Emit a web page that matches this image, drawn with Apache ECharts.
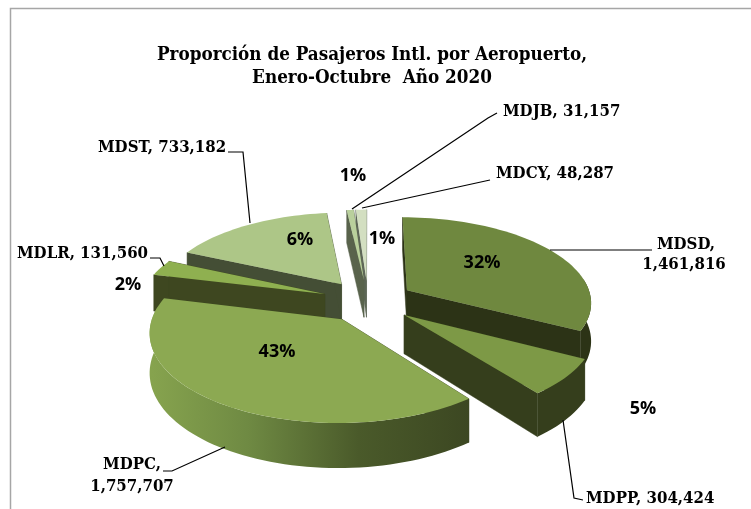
<!DOCTYPE html>
<html>
<head>
<meta charset="utf-8">
<style>html,body{margin:0;padding:0;background:#fff}#main{width:751px;height:509px}</style>
<script src="https://cdn.jsdelivr.net/npm/echarts@6/dist/echarts.min.js"></script>
</head>
<body>
<div id="main"></div>
<script>
var names = ['MDSD', 'MDPP', 'MDPC', 'MDLR', 'MDST', 'MDJB', 'MDCY'];
var passengers = [1461816, 304424, 1757707, 131560, 733182, 31157, 48287];
var percentLabels = ['32%', '5%', '43%', '2%', '6%', '1%', '1%'];

var topColors = ['#6f883f', '#7d9946', '#8ca952', '#8fb050', '#adc687', '#b9d09c', '#d3dfc1'];
var sideColors = ['#2c3316', '#353e1c', '#3c4722', '#3e4720', '#444e35', '#59634c', '#5f6858'];

var total = passengers.reduce(function (a, b) { return a + b; }, 0);
var START_ANGLE = -90;
var EXPLODE = 0.25;
// fake 3d: perspective of a tilted disc
var CX = 368, CY = 301, RX = 185, RY = 85, PERSP = 0.13, DEPTH = 38;

function project(u, v, down) {
	var w = 1 - PERSP * v;
	return [CX + RX * u / w, CY + RY * v / w + (down ? DEPTH / w : 0)];
}

function angleAt(idx) {
	var sum = 0;
	for (var i = 0; i < idx; i++) sum += passengers[i];
	return START_ANGLE + sum / total * 360;
}

function arcPoints(ex, ey, a0, a1, down) {
	var pts = [];
	var n = Math.max(2, Math.ceil(Math.abs(a1 - a0) / 2));
	for (var i = 0; i <= n; i++) {
		var a = (a0 + (a1 - a0) * i / n) * Math.PI / 180;
		pts.push(project(ex + Math.cos(a), ey + Math.sin(a), down));
	}
	return pts;
}

function renderSlice(params, api) {
	var idx = params.dataIndex;
	var a0 = angleAt(idx), a1 = a0 + api.value(0) / total * 360;
	var mid = (a0 + a1) / 2 * Math.PI / 180;
	var ex = EXPLODE * Math.cos(mid), ey = EXPLODE * Math.sin(mid);
	var z = 500 + Math.round(ey * 1000);
	var side = sideColors[idx];
	var children = [];

	// the two cut faces
	[a0, a1].forEach(function (a) {
		var r = a * Math.PI / 180;
		var ox = ex + Math.cos(r), oy = ey + Math.sin(r);
		children.push({
			type: 'polygon', z2: z,
			shape: { points: [project(ex, ey), project(ox, oy), project(ox, oy, true), project(ex, ey, true)] },
			style: { fill: side, stroke: side, lineWidth: 0.5 }
		});
	});

	// outer wall, only the part that faces the viewer
	var w0 = Math.max(a0, -8), w1 = Math.min(a1, 188);
	if (w1 > w0) {
		var topArc = arcPoints(ex, ey, w0, w1);
		var botArc = arcPoints(ex, ey, w0, w1, true);
		var fill = side;
		if (names[idx] === 'MDPC') {
			fill = new echarts.graphic.LinearGradient(152, 0, 470, 0, [
				{ offset: 0, color: '#86a34e' },
				{ offset: 0.3, color: '#6f8a43' },
				{ offset: 0.65, color: '#4a5a2a' },
				{ offset: 1, color: side }
			], true);
		}
		children.push({
			type: 'polygon', z2: z + 1,
			shape: { points: topArc.concat(botArc.reverse()) },
			style: { fill: fill }
		});
	}

	// top surface
	var topPts = [project(ex, ey)].concat(arcPoints(ex, ey, a0, a1));
	children.push({
		type: 'polygon', z2: z + 2,
		shape: { points: topPts },
		style: { fill: topColors[idx] }
	});

	return { type: 'group', children: children };
}

// data labels sit next to their leader lines
var labelFont = 'bold 16.7px "DejaVu Serif Condensed", "DejaVu Serif", serif';
var titleFont = 'bold 18.7px "DejaVu Serif Condensed", "DejaVu Serif", serif';
var pctFont = 'bold 18px "Open Sans", sans-serif';

function fmt(i) { return passengers[i].toLocaleString('en-US'); }

function txt(x, y, str, font, align) {
	return { type: 'text', x: x, y: y, z: 20, style: { text: str, font: font, fill: '#000', align: align || 'left', verticalAlign: 'middle', lineHeight: 20 } };
}
function leader(points) {
	return { type: 'polyline', z: 19, shape: { points: points }, style: { stroke: '#000', lineWidth: 1.2, fill: null } };
}

var elements = [
	{ type: 'rect', z: 0, shape: { x: 10.5, y: 8.5, width: 745, height: 510 }, style: { fill: '#fff', stroke: '#a6a6a6', lineWidth: 1.5 } },
	txt(372, 55, 'Proporción de Pasajeros Intl. por Aeropuerto,', titleFont, 'center'),
	txt(372, 78, 'Enero-Octubre  Año 2020', titleFont, 'center'),
	txt(503, 112, names[5] + ', ' + fmt(5), labelFont),
	txt(496, 174, names[6] + ', ' + fmt(6), labelFont),
	txt(98, 148, names[4] + ', ' + fmt(4), labelFont),
	txt(17, 254, names[3] + ', ' + fmt(3), labelFont),
	txt(686, 245, names[0] + ',', labelFont, 'center'),
	txt(684, 265, fmt(0), labelFont, 'center'),
	txt(132, 465, names[2] + ',', labelFont, 'center'),
	txt(132, 487, fmt(2), labelFont, 'center'),
	txt(586, 499, names[1] + ', ' + fmt(1), labelFont),
	txt(482, 263, percentLabels[0], pctFont, 'center'),
	txt(643, 409, percentLabels[1], pctFont, 'center'),
	txt(277, 352, percentLabels[2], pctFont, 'center'),
	txt(128, 285, percentLabels[3], pctFont, 'center'),
	txt(300, 240, percentLabels[4], pctFont, 'center'),
	txt(353, 176, percentLabels[5], pctFont, 'center'),
	txt(382, 239, percentLabels[6], pctFont, 'center'),
	leader([[352, 209], [488, 118], [497, 113]]),
	leader([[362, 208], [490, 180]]),
	leader([[228, 152], [243, 152], [250, 223]]),
	leader([[150, 258], [160, 258], [164, 266]]),
	leader([[550, 250], [652, 250]]),
	leader([[563, 420], [574, 498], [583, 500]]),
	leader([[163, 471], [172, 471], [225, 447]])
];

var myChart = echarts.init(document.getElementById('main'));
myChart.setOption({
	animation: false,
	graphic: { elements: elements },
	series: [{
		type: 'custom',
		coordinateSystem: 'none',
		renderItem: renderSlice,
		z: 5,
		data: passengers.map(function (v, i) { return { name: names[i], value: [v] }; })
	}]
});
</script>
</body>
</html>
